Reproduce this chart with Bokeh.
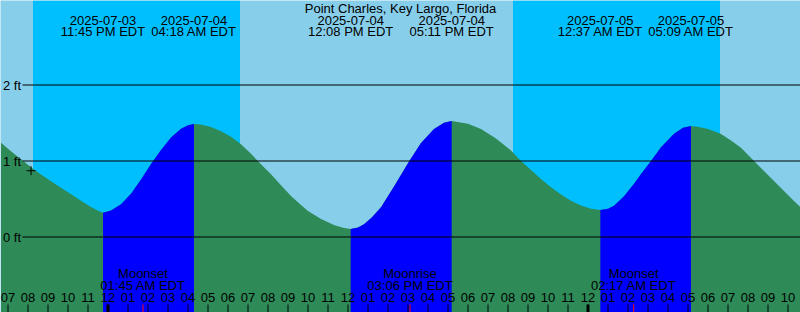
import datetime as dt
from bokeh.plotting import figure
from bokeh.models import Range1d
from bokeh.core.properties import value
from bokeh.embed import file_html
from bokeh.resources import INLINE

# ---------------- data ----------------
station = "Point Charles, Key Largo, Florida"
tz_name = "EDT"
ref_time = "2025-07-04 00:00"

tide_times = ["2025-07-03 23:45", "2025-07-04 04:18", "2025-07-04 12:08",
              "2025-07-04 17:11", "2025-07-05 00:37", "2025-07-05 05:09"]
tide_kind = ["low", "high", "low", "high", "low", "high"]
tide_feet = [0.32, 1.487, 0.105, 1.526, 0.355, 1.461]

moon_times = ["2025-07-04 01:45", "2025-07-04 15:06", "2025-07-05 02:17"]
moon_events = ["Moonset", "Moonrise", "Moonset"]

night_start = ["2025-07-03 20:15", "2025-07-04 20:15"]
night_end = ["2025-07-04 06:36", "2025-07-05 06:36"]

now_time = "2025-07-03 20:09"
now_feet = 0.872

# water level samples (hours after 2025-07-04 00:00, feet)
curve_hours = [-5.35, -4.85, -4.35, -3.85, -3.35, -2.85, -2.35, -1.85, -1.35, -0.85, -0.55,
               0.15, 0.65, 1.15, 1.65, 2.15, 2.65, 3.15, 3.65, 4.0,
               4.65, 5.15, 5.65, 6.15, 6.65, 7.15, 7.5, 8.15, 8.65, 9.15, 9.65, 10.0, 10.65, 11.3, 11.75,
               12.5, 12.8, 13.2, 13.65, 14.3, 15.05, 15.65, 16.3, 16.8,
               18.0, 18.65, 19.4, 20.15, 20.65, 21.15, 21.65, 22.15, 22.65, 23.15, 23.65, 24.15,
               25.0, 25.3, 25.8, 26.3, 26.65, 27.15, 27.65, 28.3, 28.75,
               29.55, 30.0, 30.65, 31.15, 31.65, 32.3, 32.8, 33.3, 33.8, 34.3, 34.65]
curve_feet = [1.241, 1.128, 1.022, 0.918, 0.822, 0.733, 0.648, 0.563, 0.476, 0.395, 0.352,
              0.348, 0.43, 0.568, 0.758, 0.962, 1.146, 1.308, 1.425, 1.472,
              1.48, 1.447, 1.392, 1.318, 1.222, 1.095, 0.998, 0.826, 0.682, 0.54, 0.421, 0.342, 0.238, 0.158, 0.122,
              0.126, 0.168, 0.26, 0.39, 0.665, 0.995, 1.236, 1.421, 1.502,
              1.491, 1.42, 1.296, 1.138, 1.0, 0.88, 0.762, 0.655, 0.558, 0.478, 0.416, 0.373,
              0.371, 0.41, 0.535, 0.702, 0.83, 1.0, 1.18, 1.36, 1.437,
              1.449, 1.421, 1.355, 1.27, 1.175, 1.0, 0.868, 0.737, 0.605, 0.474, 0.386]

level_ticks = [0, 1, 2]
level_labels = ["0 ft", "1 ft", "2 ft"]

hour_ticks = list(range(-5, 35))
hour_labels = ["07", "08", "09", "10", "11", "12", "01", "02", "03", "04", "05", "06",
               "07", "08", "09", "10", "11", "12", "01", "02", "03", "04", "05", "06",
               "07", "08", "09", "10", "11", "12", "01", "02", "03", "04", "05", "06",
               "07", "08", "09", "10"]
midnight_ticks = [0, 24]

# ---------------- helpers ----------------
FMT = "%Y-%m-%d %H:%M"
REF = dt.datetime.strptime(ref_time, FMT)


def hrs(s):
    return (dt.datetime.strptime(s, FMT) - REF).total_seconds() / 3600.0


tide_h = [hrs(t) for t in tide_times]
moon_h = [hrs(t) for t in moon_times]
night_l = [hrs(t) for t in night_start]
night_r = [hrs(t) for t in night_end]
now_h = hrs(now_time)

pts = sorted(zip(curve_hours + tide_h, curve_feet + tide_feet))
ch = [a for a, b in pts]
cf = [b for a, b in pts]

W, H = 800, 312
PXH = 20.0   # pixels per hour
PXF = 76.0   # pixels per foot
XMIN = -107.5 / PXH
XMAX = XMIN + W / PXH
YMAX = 236.5 / PXF
YMIN = YMAX - H / PXF


def ypx(px):
    return YMAX - px / PXF


def xpx(px):
    return XMIN + px / PXH


FONT = value("Liberation Sans")
FS = "13px"
TXT = dict(text_font=FONT, text_font_size=FS, text_color="black", text_baseline="middle")

p = figure(width=W, height=H, x_range=Range1d(XMIN, XMAX), y_range=Range1d(YMIN, YMAX),
           output_backend="svg", toolbar_location=None, min_border=0)
p.axis.visible = False
p.grid.visible = False
p.outline_line_color = None
p.background_fill_color = "#87CEEB"
p.border_fill_color = "#87CEEB"

# night shading
p.quad(left=night_l, right=night_r, bottom=YMIN, top=YMAX, fill_color="#00BFFF", line_color=None)

# water: ebb (green) everywhere, flood (blue) on rising parts
p.varea(x=ch, y1=[YMIN] * len(ch), y2=cf, fill_color="#2E8B57")
for i in range(len(tide_h) - 1):
    if tide_kind[i] == "low" and tide_kind[i + 1] == "high":
        a, b = tide_h[i], tide_h[i + 1]
        xs = [h for h in ch if a <= h <= b]
        ys = [f for h, f in zip(ch, cf) if a <= h <= b]
        p.varea(x=xs, y1=[YMIN] * len(xs), y2=ys, fill_color="#0000FF")

# level lines and labels
p.segment(x0=[xpx(22)] * len(level_ticks), y0=level_ticks, x1=[XMAX] * len(level_ticks),
          y1=level_ticks, line_color="black", line_width=1)
p.text(x=[xpx(2.5)] * len(level_ticks), y=level_ticks, text=level_labels,
       text_align="left", **TXT)

# title
p.text(x=[(XMIN + XMAX) / 2], y=[ypx(7.8)], text=[station], text_align="center", **TXT)

# tide event labels
dates = [dt.datetime.strptime(t, FMT) for t in tide_times]
p.text(x=tide_h, y=[ypx(19.5)] * len(tide_h), text=[d.strftime("%Y-%m-%d") for d in dates],
       text_align="center", **TXT)
p.text(x=tide_h, y=[ypx(31.2)] * len(tide_h),
       text=[d.strftime("%I:%M %p ") + tz_name for d in dates], text_align="center", **TXT)

# moon event labels
mdates = [dt.datetime.strptime(t, FMT) for t in moon_times]
p.text(x=moon_h, y=[ypx(273.2)] * len(moon_h), text=moon_events, text_align="center", **TXT)
p.text(x=moon_h, y=[ypx(284.9)] * len(moon_h),
       text=[d.strftime("%I:%M %p ") + tz_name for d in mdates], text_align="center", **TXT)

# hour axis
p.text(x=hour_ticks, y=[ypx(297.2)] * len(hour_ticks), text=hour_labels, text_align="center", **TXT)
p.segment(x0=hour_ticks, y0=[ypx(304)] * len(hour_ticks), x1=hour_ticks,
          y1=[YMIN] * len(hour_ticks), line_color="black", line_width=1)
p.segment(x0=midnight_ticks, y0=[ypx(304)] * len(midnight_ticks), x1=midnight_ticks,
          y1=[YMIN] * len(midnight_ticks), line_color="black", line_width=3)
p.segment(x0=moon_h, y0=[ypx(304)] * len(moon_h), x1=moon_h,
          y1=[YMIN] * len(moon_h), line_color="red", line_width=1)

# current time mark
p.scatter(x=[now_h], y=[now_feet], marker="cross", size=9, line_color="black", line_width=1)

open("out.html", "w").write(file_html(p, INLINE))
